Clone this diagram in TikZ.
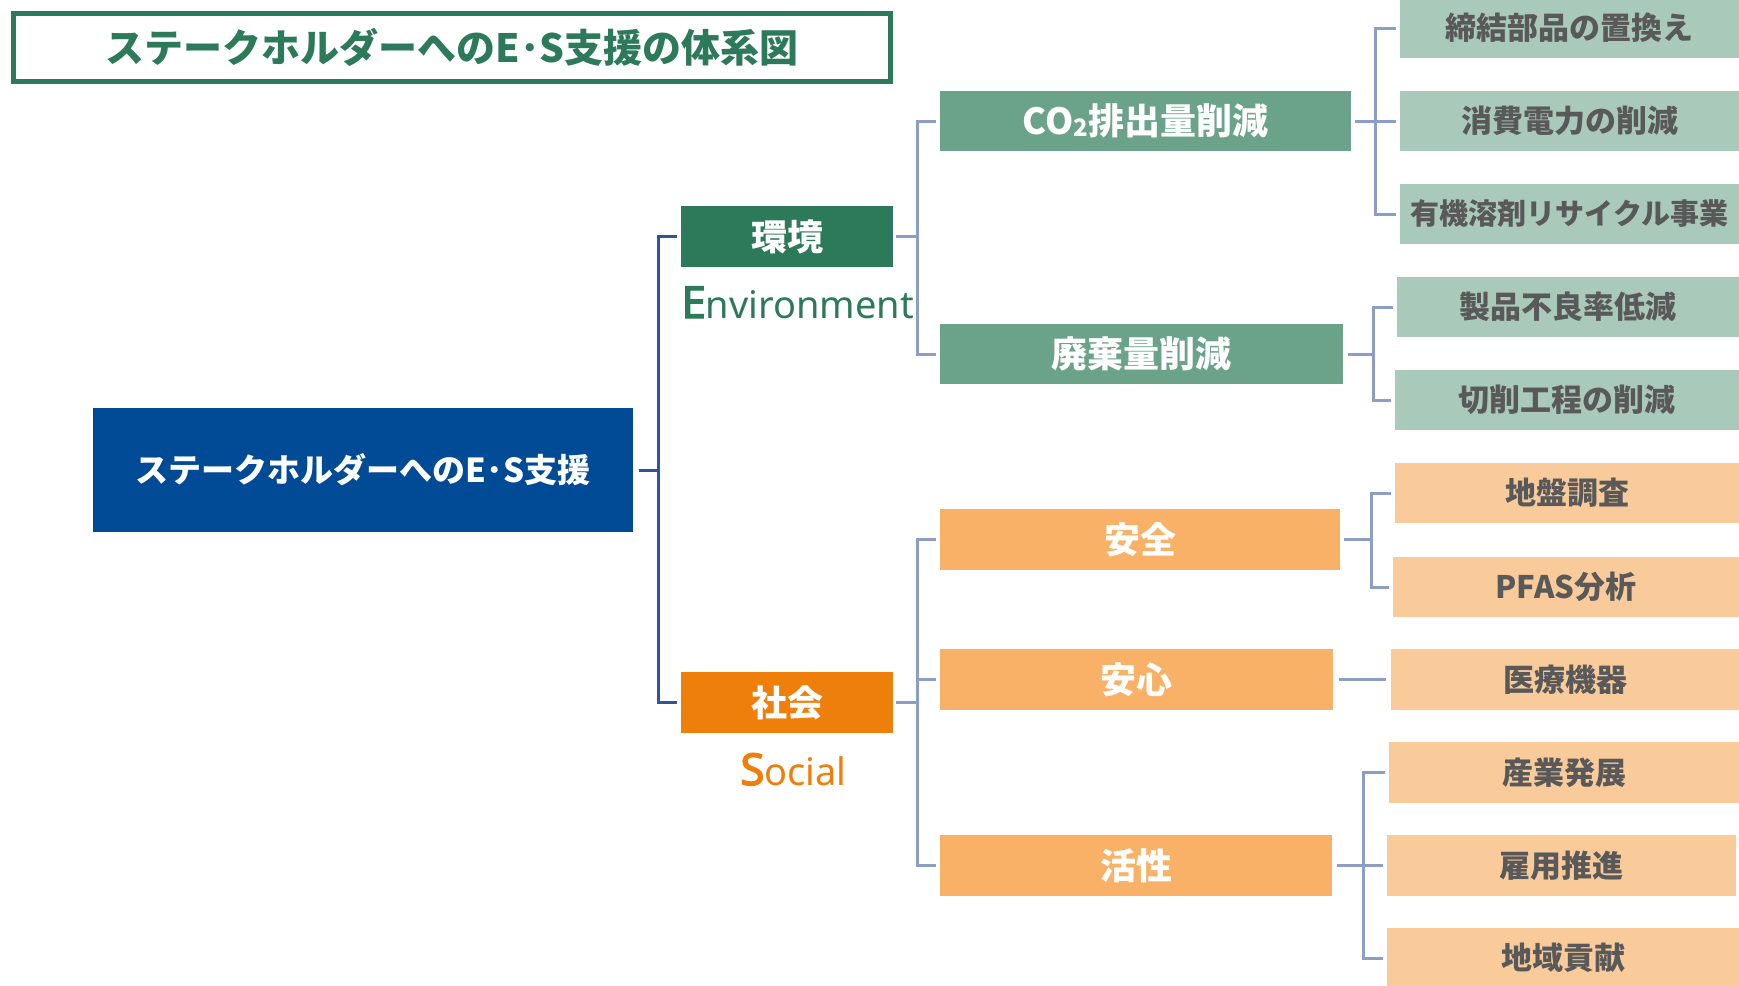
\documentclass[tikz,border=0pt]{standalone}
\usepackage{fontspec}
\setmainfont{Noto Sans CJK JP}
\newfontfamily\latinfont{Noto Sans}
\newfontfamily\latinbold{Noto Sans}[FakeBold=3]
\usetikzlibrary{calc}
\definecolor{titlegreen}{HTML}{2C7A5A}
\definecolor{rootblue}{HTML}{014B96}
\definecolor{lvgreen}{HTML}{2C7A5A}
\definecolor{midgreen}{HTML}{6AA38A}
\definecolor{lightgreen}{HTML}{A9C9BB}
\definecolor{socorange}{HTML}{EF7F0B}
\definecolor{midorange}{HTML}{F9B167}
\definecolor{lightorange}{HTML}{F9CA9A}
\definecolor{leaftext}{HTML}{595959}
\definecolor{darkline}{HTML}{2F5597}
\definecolor{lightline}{HTML}{8C9DC6}
\begin{document}
\begin{tikzpicture}[x=0.5pt,y=-0.5pt,
  box/.style={rectangle, inner sep=0pt, draw=none},
  titlebox/.style={box, draw=titlegreen, line width=2.5pt, text=titlegreen,
    font=\fontsize{19.5}{19.5}\selectfont\bfseries},
  rootbox/.style={box, fill=rootblue, text=white, font=\fontsize{16.5}{16.5}\selectfont\bfseries},
  envbox/.style={box, fill=lvgreen, text=white, font=\fontsize{18}{18}\selectfont\bfseries},
  socbox/.style={box, fill=socorange, text=white, font=\fontsize{18}{18}\selectfont\bfseries},
  gmid/.style={box, fill=midgreen, text=white, font=\fontsize{18}{18}\selectfont\bfseries},
  omid/.style={box, fill=midorange, text=white, font=\fontsize{18}{18}\selectfont\bfseries},
  gleaf/.style={box, fill=lightgreen, text=leaftext, font=\fontsize{15.5}{15.5}\selectfont\bfseries},
  oleaf/.style={box, fill=lightorange, text=leaftext, font=\fontsize{15.5}{15.5}\selectfont\bfseries},
  rootline/.style={draw=darkline, line width=1.5pt},
  subline/.style={draw=lightline, line width=1.5pt},
]
\useasboundingbox (0,0) rectangle (1739,985);

% title
\node[titlebox, minimum width=438.5pt, minimum height=34pt] (title) at (452,47.5) {ステークホルダーへのE･S支援の体系図};

% root
\node[rootbox, minimum width=270pt, minimum height=62pt] (root) at (363,470) {ステークホルダーへのE･S支援};

% level 1
\node[envbox, minimum width=106pt, minimum height=30.5pt] (env) at (787,236.5) {環境};
\node[socbox, minimum width=106pt, minimum height=30.5pt] (soc) at (787,702.5) {社会};
\node[anchor=base west, inner sep=0pt, text=lvgreen] (envlabel) at (681,318)
  {{\latinbold\fontsize{22}{22}\selectfont E}\latinfont\fontsize{19}{19}\selectfont nvironment};
\node[anchor=base west, inner sep=0pt, text=socorange] (soclabel) at (740,785)
  {{\latinbold\fontsize{22}{22}\selectfont S}\latinfont\fontsize{19}{19}\selectfont ocial};

% level 2
\node[gmid, minimum width=205.5pt, minimum height=30pt] (co2) at (1145.5,121) {CO\raisebox{-1pt}{\fontsize{12}{12}\selectfont 2}排出量削減};
\node[gmid, minimum width=201.5pt, minimum height=30pt] (waste) at (1141.5,354) {廃棄量削減};
\node[omid, minimum width=200pt, minimum height=30.5pt] (safe) at (1140,539.5) {安全};
\node[omid, minimum width=196.5pt, minimum height=30.5pt] (relief) at (1136.5,679.5) {安心};
\node[omid, minimum width=196pt, minimum height=30.5pt] (vital) at (1136,865.5) {活性};

% level 3
\node[gleaf, minimum width=169.5pt, minimum height=30pt] (a1) at (1569.5,28) {締結部品の置換え};
\node[gleaf, minimum width=169.5pt, minimum height=30pt] (a2) at (1569.5,121) {消費電力の削減};
\node[gleaf, minimum width=169.5pt, minimum height=30pt, font=\fontsize{14.5}{14.5}\selectfont\bfseries] (a3) at (1569.5,214) {有機溶剤リサイクル事業};
\node[gleaf, minimum width=171pt, minimum height=30pt] (b1) at (1568,307) {製品不良率低減};
\node[gleaf, minimum width=172pt, minimum height=30pt] (b2) at (1567,400) {切削工程の削減};
\node[oleaf, minimum width=172pt, minimum height=30pt] (c1) at (1567,493) {地盤調査};
\node[oleaf, minimum width=173pt, minimum height=30pt] (c2) at (1566,587) {PFAS分析};
\node[oleaf, minimum width=174pt, minimum height=30.5pt] (d1) at (1565,679.5) {医療機器};
\node[oleaf, minimum width=175pt, minimum height=30.5pt] (e1) at (1564,772.5) {産業発展};
\node[oleaf, minimum width=174.5pt, minimum height=30.5pt] (e2) at (1561.5,865.5) {雇用推進};
\node[oleaf, minimum width=176pt, minimum height=30pt] (e3) at (1563,958) {地域貢献};

% connectors: root
\coordinate (r0) at (658,470);
\draw[rootline, shorten <=3pt] (root.east) -- (r0);
\draw[rootline, shorten >=2pt] (r0) |- (env.west);
\draw[rootline, shorten >=2pt] (r0) |- (soc.west);

% env
\coordinate (e0) at (917,236.5);
\draw[subline, shorten <=1.5pt] (env.east) -- (e0);
\draw[subline, shorten >=2pt] (e0) |- (co2.west);
\draw[subline, shorten >=2pt] (e0) |- (waste.west);

% social
\coordinate (s0) at (917,702.5);
\draw[subline, shorten <=1.5pt] (soc.east) -- (s0);
\draw[subline, shorten >=2pt] (s0) |- (safe.west);
\draw[subline, shorten >=2pt] (s0) |- (relief.west);
\draw[subline, shorten >=2pt] (s0) |- (vital.west);

% co2
\coordinate (g1) at (1375,121);
\draw[subline, shorten <=2pt] (co2.east) -- (g1);
\draw[subline, shorten >=2pt] (g1) |- (a1.west);
\draw[subline, shorten >=2pt] (g1) |- (a2.west);
\draw[subline, shorten >=2pt] (g1) |- (a3.west);

% waste
\coordinate (g2) at (1373,354);
\draw[subline, shorten <=2.5pt] (waste.east) -- (g2);
\draw[subline, shorten >=2pt] (g2) |- (b1.west);
\draw[subline, shorten >=2pt] (g2) |- (b2.west);

% safe
\coordinate (g3) at (1371,539.5);
\draw[subline, shorten <=2pt] (safe.east) -- (g3);
\draw[subline, shorten >=2pt] (g3) |- (c1.west);
\draw[subline, shorten >=2pt] (g3) |- (c2.west);

% relief
\draw[subline, shorten <=3pt, shorten >=2.5pt] (relief.east) -- (d1.west);

% vital
\coordinate (g4) at (1363,865.5);
\draw[subline, shorten <=2.5pt] (vital.east) -- (g4);
\draw[subline, shorten >=2pt] (g4) |- (e1.west);
\draw[subline, shorten >=2pt] (g4) |- (e2.west);
\draw[subline, shorten >=2pt] (g4) |- (e3.west);
\end{tikzpicture}
\end{document}
